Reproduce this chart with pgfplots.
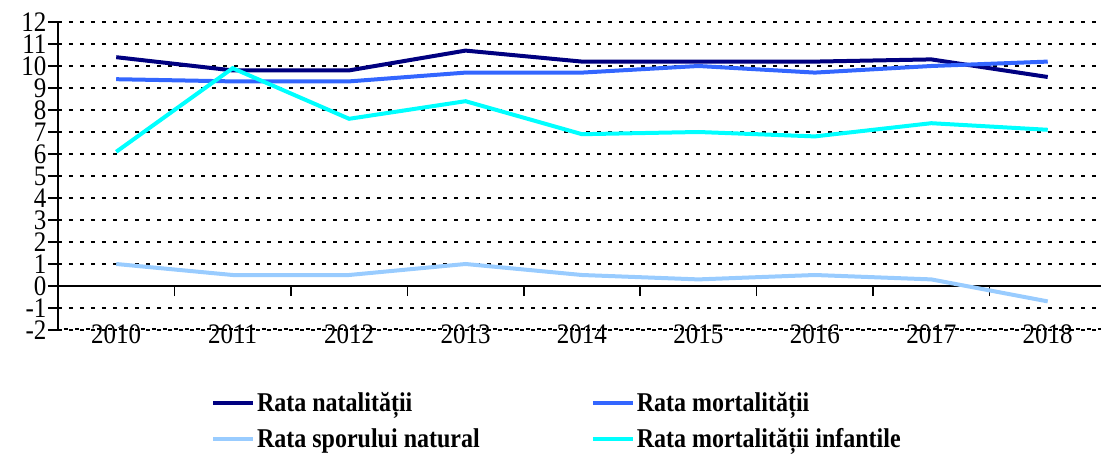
\documentclass[border=0pt]{standalone}
\usepackage{fontspec}
\setmainfont{Liberation Serif}
\usepackage{graphicx}
\usepackage{pgfplots}
\pgfplotsset{compat=1.18}
\definecolor{nat}{HTML}{000080}
\definecolor{mort}{HTML}{3366FF}
\definecolor{spor}{HTML}{99CCFF}
\definecolor{inf}{HTML}{00FFFF}
\newcommand{\ys}[1]{\scalebox{1}[1.13]{#1}}
\begin{document}
\begin{tikzpicture}[x=1pt,y=1pt]
\path[use as bounding box] (0,0) rectangle (1101,461);
\begin{axis}[
  at={(58pt,131pt)}, anchor=south west,
  scale only axis, width=1048pt, height=308pt,
  xmin=-0.5, xmax=8.5, ymin=-2, ymax=12,
  clip=false,
  axis y line=left, axis x line=middle,
  axis line style={-, line width=1.5pt, black},
  ytick={-2,-1,...,12},
  yticklabel={\ys{\pgfmathprintnumber{\tick}}},
  xtick={0.5,1.5,...,7.5}, xticklabels={},
  major tick length=10pt, tick align=outside,
  tick style={black, line width=1.5pt},
  ymajorgrids,
  grid style={black, line width=1.8pt, dash pattern=on 4pt off 7pt},
  extra x ticks={0,1,...,8},
  extra x tick labels={\ys{2010},\ys{2011},\ys{2012},\ys{2013},\ys{2014},\ys{2015},\ys{2016},\ys{2017},\ys{2018}},
  extra x tick style={major tick length=0pt, grid=none, tick style={draw=none},
     xticklabel style={yshift=-35pt, fill=none}},
  /pgf/number format/assume math mode=true,
  ticklabel style={font=\fontsize{25}{25}\selectfont},
  yticklabel style={xshift=2pt},
  legend columns=2,
  legend cell align=left,
  legend style={at={(0.143,-0.19)}, anchor=north west, draw=none, fill=none,
     font=\bfseries\fontsize{24}{28}\selectfont,
     row sep=11pt,
     /tikz/every even column/.append style={column sep=109pt}},
  legend image code/.code={\draw[#1] (0pt,0pt) -- (40pt,0pt);},
  every axis plot/.append style={line width=4pt},
]
\addplot[nat] coordinates {(0,10.4) (1,9.8) (2,9.8) (3,10.7) (4,10.2) (5,10.2) (6,10.2) (7,10.3) (8,9.5)};
\addlegendentry{\ys{Rata natalității}}
\addplot[mort] coordinates {(0,9.4) (1,9.3) (2,9.3) (3,9.7) (4,9.7) (5,10.0) (6,9.7) (7,10.0) (8,10.2)};
\addlegendentry{\ys{Rata mortalității}}
\addplot[spor] coordinates {(0,1.0) (1,0.5) (2,0.5) (3,1.0) (4,0.5) (5,0.3) (6,0.5) (7,0.3) (8,-0.7)};
\addlegendentry{\ys{Rata sporului natural}}
\addplot[inf] coordinates {(0,6.1) (1,9.9) (2,7.6) (3,8.4) (4,6.9) (5,7.0) (6,6.8) (7,7.4) (8,7.1)};
\addlegendentry{\ys{Rata mortalității infantile}}
\draw[black, line width=1.8pt, dash pattern=on 4pt off 7pt] (axis cs:-0.45,-1.97) -- (axis cs:8.5,-1.97);
\end{axis}
\end{tikzpicture}
\end{document}
